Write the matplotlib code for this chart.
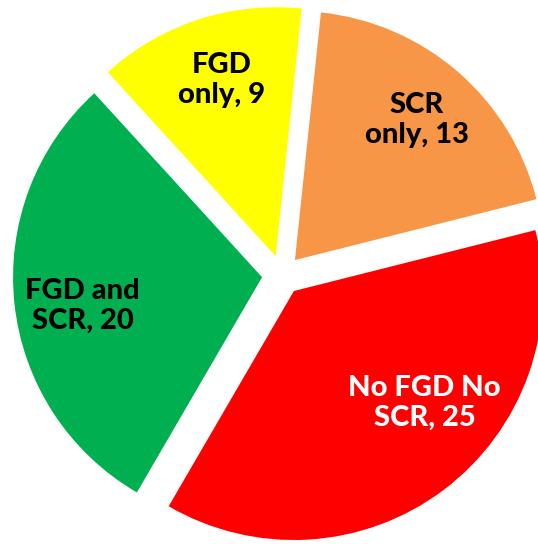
import numpy as np
import matplotlib.pyplot as plt

# data (clockwise from top)
labels = ["SCR\nonly, 13", "No FGD No\nSCR, 25", "FGD and\nSCR, 20", "FGD\nonly, 9"]
counts = [13, 25, 20, 9]
colors = ["#F79646", "#FF0000", "#00B050", "#FFFF00"]
text_colors = ["black", "white", "black", "black"]

# label placement tweaks (radius, angle shift in degrees)
label_r = [0.745, 0.69, 0.73, 0.74]
label_shift = [0, 12.5, 3, -1]

plt.rcParams['font.family'] = ['Lato', 'DejaVu Sans']

fig = plt.figure(figsize=(5.38, 5.44), dpi=100)
ax = fig.add_axes([0, 0, 1, 1])

wedges, texts = ax.pie(
    counts,
    colors=colors,
    startangle=84,
    counterclock=False,
    explode=[0.08] * 4,
    radius=1.0,
    labels=labels,
    wedgeprops=dict(linewidth=0),
)

for w, t, r, sh, tc in zip(wedges, texts, label_r, label_shift, text_colors):
    mid = np.deg2rad((w.theta1 + w.theta2) / 2 + sh)
    cx, cy = w.center
    t.set_position((cx + r * np.cos(mid), cy + r * np.sin(mid)))
    t.set_ha("center")
    t.set_va("center")
    t.set_color(tc)
    t.set_fontsize(21)
    t.set_fontweight("black")
    t.set_linespacing(1.2)

ax.set_xlim(-1.132, 1.0285)
ax.set_ylim(-1.080, 1.105)
ax.set_aspect("auto")
ax.axis("off")

fig.savefig("out.png", dpi=100)
